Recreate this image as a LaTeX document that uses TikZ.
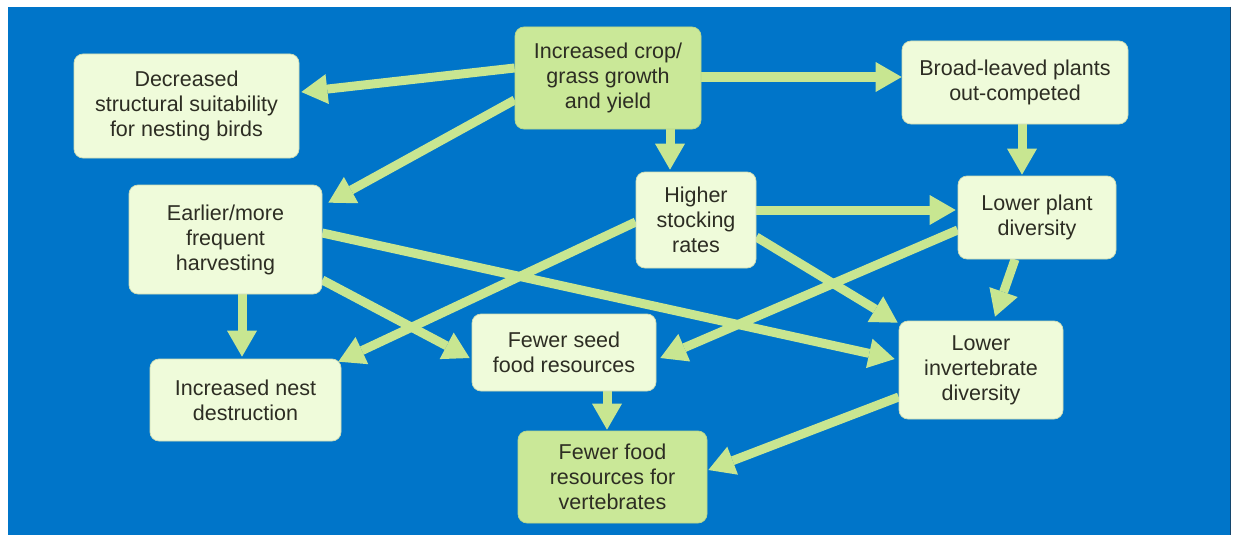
\documentclass[tikz,border=0pt]{standalone}
\usepackage{fontspec}
\setmainfont{Liberation Sans}
\usetikzlibrary{arrows.meta}
\definecolor{bgblue}{RGB}{0,117,201}
\definecolor{edgeblue}{RGB}{20,70,110}
\definecolor{pale}{RGB}{239,251,218}
\definecolor{paleedge}{RGB}{205,220,180}
\definecolor{deep}{RGB}{202,232,152}
\definecolor{deepedge}{RGB}{185,215,140}
\definecolor{arrowc}{RGB}{200,230,145}
\definecolor{txt}{RGB}{45,45,35}
\pgfdeclarelayer{bg}
\pgfsetlayers{bg,main}
\begin{document}
\begin{tikzpicture}[x=1pt,y=-1pt,
  box/.style={rounded corners=9pt, draw=paleedge, line width=0.7pt, fill=pale,
    align=center, text=txt, inner sep=0pt,
    font=\fontsize{21.5}{25}\selectfont},
  darkbox/.style={box, fill=deep, draw=deepedge},
  arr/.style={draw=arrowc, line width=9pt,
    -{Triangle[length=26pt,width=30pt,line width=0pt]}}]
\useasboundingbox (0,0) rectangle (1234,535);

\node[box, minimum width=225pt, minimum height=104pt] (dec) at (186.5,106) {Decreased\\structural suitability\\for nesting birds};
\node[darkbox, minimum width=186pt, minimum height=102pt] (crop) at (608,78) {Increased crop/\\grass growth\\and yield};
\node[box, minimum width=226pt, minimum height=83pt] (broad) at (1015,82.5) {Broad-leaved plants\\out-competed};
\node[box, minimum width=158pt, minimum height=83pt] (lplant) at (1037,217.5) {Lower plant\\diversity};
\node[box, minimum width=120pt, minimum height=96pt] (higher) at (696,220) {Higher\\stocking\\rates};
\node[box, minimum width=193pt, minimum height=109pt] (earlier) at (225.5,239.5) {Earlier/more\\frequent\\harvesting};
\node[box, minimum width=191pt, minimum height=82pt] (nest) at (245.5,400) {Increased nest\\destruction};
\node[box, minimum width=184pt, minimum height=77pt] (seed) at (564,352.5) {Fewer seed\\food resources};
\node[darkbox, minimum width=189pt, minimum height=92pt] (food) at (612.5,477) {Fewer food\\resources for\\vertebrates};
\node[box, minimum width=164pt, minimum height=98pt] (linv) at (981,370) {Lower\\invertebrate\\diversity};

\begin{pgfonlayer}{bg}
\fill[white] (0,0) rectangle (1234,535);
\fill[bgblue] (8,7) rectangle (1230,535);
\draw[edgeblue, line width=1.5pt] (1230.5,7) -- (1230.5,535);
% arrows
\draw[arr] ([yshift=10pt]crop.west) -- ([xshift=2pt,yshift=14pt]dec.east);
\draw[arr] ([yshift=-22pt]crop.west) -- ([xshift=6pt,yshift=-18pt]earlier.north east);
\draw[arr] ([yshift=1pt]crop.east) -- ([yshift=5.5pt]broad.west);
\draw[arr] ([xshift=62pt]crop.south) -- ([xshift=-26pt,yshift=2pt]higher.north);
\draw[arr] ([xshift=7pt]broad.south) -- ([xshift=-15pt,yshift=1pt]lplant.north);
\draw[arr] ([yshift=10pt]higher.east) -- ([xshift=-2pt,yshift=7.5pt]lplant.west);
\draw[arr] ([yshift=-17pt]higher.east) -- ([xshift=-1pt,yshift=-2pt]linv.north west);
\draw[arr] ([yshift=-2pt]higher.west) -- ([xshift=-3pt,yshift=-3pt]nest.north east);
\draw[arr] ([yshift=-12.5pt]lplant.west) -- ([xshift=4pt,yshift=-5.5pt]seed.east);
\draw[arr] ([xshift=-22pt]lplant.south) -- ([xshift=14pt,yshift=4pt]linv.north);
\draw[arr] ([xshift=16.5pt]earlier.south) -- ([xshift=-3.5pt,yshift=2pt]nest.north);
\draw[arr] ([yshift=-40.5pt]earlier.east) -- ([xshift=-2pt,yshift=-5.5pt]seed.west);
\draw[arr] ([yshift=6.5pt]earlier.east) -- ([xshift=-4pt,yshift=11pt]linv.west);
\draw[arr] ([xshift=43pt]seed.south) -- ([xshift=-5.5pt,yshift=1pt]food.north);
\draw[arr] ([yshift=-27pt]linv.west) -- ([xshift=1pt,yshift=7pt]food.east);
\end{pgfonlayer}
\end{tikzpicture}
\end{document}
